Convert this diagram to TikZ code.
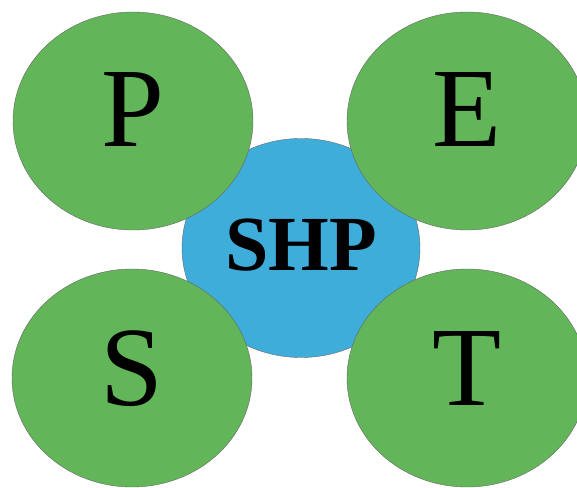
\documentclass[tikz,border=0pt]{standalone}
\usepackage{fontspec}
\setmainfont{Liberation Serif}
\usetikzlibrary{shapes.geometric}
\usetikzlibrary{positioning}
\definecolor{pestgreen}{RGB}{98,182,89}
\definecolor{shpblue}{RGB}{62,173,218}

\begin{document}
\begin{tikzpicture}[x=1pt,y=1pt,
    bubble/.style={ellipse, draw=black!60, line width=0.4pt,
      minimum width=240pt, minimum height=218pt, inner sep=0pt},
    letter/.style={font=\fontsize{113}{113}\selectfont, inner sep=0pt}]

  % page frame, outer bubbles are cut at the right edge
  \useasboundingbox (0,0) rectangle (577,487);
  \clip (0,0) rectangle (577,487);

  % centre bubble
  \node[bubble, fill=shpblue, minimum width=238pt, minimum height=219pt] (SHP) at (301,239) {};
  \node[font=\bfseries\fontsize{78}{78}\selectfont, inner sep=0pt] (SHPtext)
    at ([yshift=3pt]SHP.center) {SHP};

  % outer bubbles
  \node[bubble, fill=pestgreen] (P) at (133,366) {};
  \node[bubble, fill=pestgreen] (E) at (467,366) {};
  \node[bubble, fill=pestgreen] (S) at (132,109) {};
  \node[bubble, fill=pestgreen] (T) at (467,109) {};

  % letters
  \node[letter] (Ptext) at ([yshift=11pt]P.center) {P};
  \node[letter] (Etext) at ([yshift=11pt]E.center) {E};
  \node[letter] (Stext) at ([yshift=9pt]S.center) {S};
  \node[letter] (Ttext) at ([yshift=9pt]T.center) {T};

\end{tikzpicture}
\end{document}
